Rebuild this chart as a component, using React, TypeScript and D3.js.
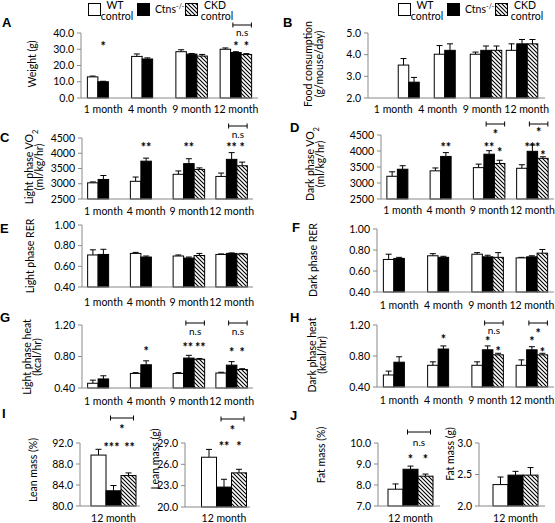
import React from "react";
import * as d3 from "d3";

// ---------- data ----------
const months = ["1 month", "4 month", "9 month", "12 month"];
const single = ["12 month"];
const groups = ["WT control", "Ctns-/-", "CKD control"];

// per category: [WT control, Ctns-/-, CKD control] (null = not measured)
const weightMean = [[13.0, 10.0, null], [25.6, 24.0, null], [28.5, 27.0, 25.8], [30.0, 28.0, 26.8]];
const weightErr = [[0.5, 0.3, null], [1.5, 0.7, null], [1.2, 0.4, 1.0], [0.8, 0.5, 0.5]];
const weightTicks = [0, 10, 20, 30, 40];

const foodMean = [[3.52, 2.73, null], [4.02, 4.2, null], [4.02, 4.2, 4.2], [4.2, 4.5, 4.5]];
const foodErr = [[0.3, 0.22, null], [0.4, 0.3, null], [0.1, 0.2, 0.2], [0.3, 0.2, 0.2]];
const foodTicks = [2, 3, 4, 5];

const vo2LightMean = [[3030, 3140, null], [3080, 3740, null], [3310, 3660, 3470], [3240, 3800, 3590]];
const vo2LightErr = [[30, 130, null], [140, 100, null], [110, 160, 50], [110, 220, 120]];
const vo2DarkMean = [[3210, 3430, null], [3380, 3830, null], [3480, 3900, 3610], [3460, 3990, 3770]];
const vo2DarkErr = [[140, 110, null], [90, 120, null], [110, 110, 100], [110, 200, 50]];
const vo2Ticks = [2500, 3000, 3500, 4000, 4500];

const rerLightMean = [[0.71, 0.715, null], [0.725, 0.69, null], [0.70, 0.68, 0.705], [0.715, 0.725, 0.72]];
const rerLightErr = [[0.05, 0.05, null], [0.01, 0.01, null], [0.01, 0.01, 0.02], [0.005, 0.005, 0.005]];
const rerDarkMean = [[0.71, 0.72, null], [0.745, 0.73, null], [0.76, 0.735, 0.73], [0.725, 0.735, 0.77]];
const rerDarkErr = [[0.05, 0.01, null], [0.02, 0.01, null], [0.015, 0.015, 0.045], [0.005, 0.01, 0.035]];
const rerTicks = [0.4, 0.6, 0.8, 1.0];

const heatLightMean = [[0.46, 0.515, null], [0.585, 0.695, null], [0.585, 0.78, 0.765], [0.59, 0.69, 0.635]];
const heatLightErr = [[0.04, 0.04, null], [0.01, 0.05, null], [0.01, 0.035, 0.01], [0.01, 0.045, 0.01]];
const heatDarkMean = [[0.555, 0.72, null], [0.68, 0.89, null], [0.68, 0.88, 0.815], [0.68, 0.88, 0.815]];
const heatDarkErr = [[0.05, 0.07, null], [0.045, 0.04, null], [0.045, 0.05, 0.02], [0.07, 0.04, 0.02]];
const heatTicks = [0.4, 0.8, 1.2];

const leanPctMean = [[89.7, 82.9, 85.8]];
const leanPctErr = [[1.1, 1.0, 0.5]];
const leanPctTicks = [80, 84, 88, 92];
const leanGMean = [[27.0, 22.8, 24.8]];
const leanGErr = [[1.1, 1.1, 0.5]];
const leanGTicks = [20, 23, 26, 29];
const fatPctMean = [[7.8, 8.75, 8.42]];
const fatPctErr = [[0.25, 0.15, 0.1]];
const fatPctTicks = [7, 8, 9, 10];
const fatGMean = [[2.34, 2.49, 2.49]];
const fatGErr = [[0.12, 0.06, 0.12]];
const fatGTicks = [2.0, 2.5, 3.0];

// ---------- styles ----------
const FONT = "Lato, 'Open Sans', sans-serif";
const AXIS = "#8a8a8a";
const FILLS = ["#ffffff", "#000000", "url(#hatch)"];
const TICK_FS = 10.5;
const LAB_FS = 10.5;
const STAR_FS = 12.5;

type Star = { c: number; s: number; t: string; dy: number; dx?: number };
type Bracket = { c: number; dy: number; t: string; tdy: number };
type PanelCfg = {
  letter: string; lx: number; ly: number;
  cats: string[]; mean: (number | null)[][]; err: (number | null)[][];
  ticks: number[]; fmt: string;
  x0: number; x1: number; band?: [number, number]; labelBand?: [number, number];
  yTop: number; yBot: number; labelY: number; barW: number;
  ylab: React.ReactNode[]; ylx: number[]; ylc: number;
  stars?: Star[]; brackets?: Bracket[];
};

const VO2 = (pre: string) => (
  <>
    {pre}VO<tspan baselineShift="sub" fontSize={7.5}>2</tspan>
  </>
);

const panels: PanelCfg[] = [
  {
    letter: "A", lx: 2, ly: 27, cats: months, mean: weightMean, err: weightErr, ticks: weightTicks, fmt: ".1f",
    x0: 81, x1: 258, yTop: 33, yBot: 98, labelY: 113, barW: 10.5,
    ylab: ["Weight (g)"], ylx: [32], ylc: 64,
    stars: [{ c: 0, s: 1, t: "*", dy: 11 }, { c: 3, s: 1, t: "*", dy: 11 }, { c: 3, s: 2, t: "*", dy: 11 }],
    brackets: [{ c: 3, dy: -8, t: "n.s", tdy: 0 }],
  },
  {
    letter: "B", lx: 283, ly: 27, cats: months, mean: foodMean, err: foodErr, ticks: foodTicks, fmt: ".1f",
    x0: 368, x1: 545, band: [396, 540], labelBand: [371, 549], yTop: 33, yBot: 98, labelY: 113, barW: 10.5,
    ylab: ["Food consumption", "(g/mouse/day)"], ylx: [308, 319], ylc: 64,
  },
  {
    letter: "C", lx: 0, ly: 142, cats: months, mean: vo2LightMean, err: vo2LightErr, ticks: vo2Ticks, fmt: "d",
    x0: 82, x1: 253, yTop: 138, yBot: 199, labelY: 215, barW: 10.5,
    ylab: [VO2("Light phase "), "(ml/kg/hr)"], ylx: [29, 39], ylc: 167,
    stars: [{ c: 1, s: 1, t: "**", dy: 7 }, { c: 2, s: 1, t: "**", dy: 7 }, { c: 3, s: 1, t: "**", dy: 7 }, { c: 3, s: 2, t: "*", dy: 7 }],
    brackets: [{ c: 3, dy: -12, t: "n.s", tdy: -3 }],
  },
  {
    letter: "D", lx: 290, ly: 132, cats: months, mean: vo2DarkMean, err: vo2DarkErr, ticks: vo2Ticks, fmt: "d",
    x0: 381, x1: 554, yTop: 135, yBot: 199, labelY: 214, barW: 10.5,
    ylab: [VO2("Dark phase "), "(ml/kg/hr)"], ylx: [310, 320], ylc: 164,
    stars: [
      { c: 1, s: 1, t: "**", dy: 10 }, { c: 2, s: 1, t: "**", dy: 10 }, { c: 2, s: 2, t: "*", dy: 15 },
      { c: 3, s: 1, t: "***", dy: 10 }, { c: 3, s: 2, t: "*", dy: 18 },
    ],
    brackets: [{ c: 2, dy: -11, t: "*", tdy: -3 }, { c: 3, dy: -11, t: "*", tdy: -5 }],
  },
  {
    letter: "E", lx: 0, ly: 233, cats: months, mean: rerLightMean, err: rerLightErr, ticks: rerTicks, fmt: ".2f",
    x0: 82, x1: 253, yTop: 225, yBot: 287, labelY: 306, barW: 10.5,
    ylab: ["Light phase RER"], ylx: [30], ylc: 256,
  },
  {
    letter: "F", lx: 292, ly: 232, cats: months, mean: rerDarkMean, err: rerDarkErr, ticks: rerTicks, fmt: ".2f",
    x0: 377, x1: 554, yTop: 229, yBot: 292, labelY: 309, barW: 10.5,
    ylab: ["Dark phase RER"], ylx: [313], ylc: 260,
  },
  {
    letter: "G", lx: 0, ly: 322, cats: months, mean: heatLightMean, err: heatLightErr, ticks: heatTicks, fmt: ".2f",
    x0: 82, x1: 253, yTop: 325, yBot: 388, labelY: 405, barW: 10.5,
    ylab: ["Light phase heat", "(kcal/hr)"], ylx: [27, 37], ylc: 357,
    stars: [
      { c: 1, s: 1, t: "*", dy: 24 }, { c: 2, s: 1, t: "**", dy: 20, dx: -1 }, { c: 2, s: 2, t: "**", dy: 20, dx: 1 },
      { c: 3, s: 1, t: "*", dy: 25 }, { c: 3, s: 2, t: "*", dy: 25 },
    ],
    brackets: [{ c: 2, dy: -2, t: "n.s", tdy: 7 }, { c: 3, dy: -2, t: "n.s", tdy: 7 }],
  },
  {
    letter: "H", lx: 290, ly: 322, cats: months, mean: heatDarkMean, err: heatDarkErr, ticks: heatTicks, fmt: ".2f",
    x0: 377, x1: 554, yTop: 325, yBot: 387, labelY: 404, barW: 10.5,
    ylab: ["Dark phase heat", "(kcal/hr)"], ylx: [312, 322], ylc: 355,
    stars: [
      { c: 1, s: 1, t: "*", dy: 12 }, { c: 2, s: 1, t: "*", dy: 14 }, { c: 2, s: 2, t: "*", dy: 24 },
      { c: 3, s: 1, t: "*", dy: 14 }, { c: 3, s: 2, t: "*", dy: 25 },
    ],
    brackets: [{ c: 2, dy: -2, t: "n.s", tdy: 6 }, { c: 3, dy: -2, t: "*", tdy: 6 }],
  },
  {
    letter: "I", lx: 2, ly: 418, cats: single, mean: leanPctMean, err: leanPctErr, ticks: leanPctTicks, fmt: ".1f",
    x0: 80, x1: 140, band: [80, 147], yTop: 443, yBot: 506, labelY: 522, barW: 15,
    ylab: ["Lean mass (%)"], ylx: [33], ylc: 470,
    stars: [{ c: 0, s: 1, t: "***", dy: 2, dx: -2 }, { c: 0, s: 2, t: "**", dy: 2, dx: 1 }],
    brackets: [{ c: 0, dy: -25, t: "*", tdy: -16 }],
  },
  {
    letter: "", lx: 0, ly: 0, cats: single, mean: leanGMean, err: leanGErr, ticks: leanGTicks, fmt: ".1f",
    x0: 185, x1: 250, band: [185, 263], yTop: 443, yBot: 507, labelY: 522, barW: 15,
    ylab: ["Lean mass (g)"], ylx: [155], ylc: 459,
    stars: [{ c: 0, s: 1, t: "**", dy: 1 }, { c: 0, s: 2, t: "*", dy: 1 }],
    brackets: [{ c: 0, dy: -24, t: "*", tdy: -15 }],
  },
  {
    letter: "J", lx: 290, ly: 420, cats: single, mean: fatPctMean, err: fatPctErr, ticks: fatPctTicks, fmt: ".1f",
    x0: 378, x1: 440, band: [378, 443], yTop: 443, yBot: 506, labelY: 522, barW: 15,
    ylab: ["Fat mass (%)"], ylx: [321], ylc: 455,
    stars: [{ c: 0, s: 1, t: "*", dy: 14 }, { c: 0, s: 2, t: "*", dy: 14 }],
    brackets: [{ c: 0, dy: -11, t: "n.s", tdy: 0 }],
  },
  {
    letter: "", lx: 0, ly: 0, cats: single, mean: fatGMean, err: fatGErr, ticks: fatGTicks, fmt: ".1f",
    x0: 479, x1: 545, band: [479, 552], yTop: 443, yBot: 506, labelY: 522, barW: 15,
    ylab: ["Fat mass (g)"], ylx: [450], ylc: 454,
  },
];

function Panel({ p }: { p: PanelCfg }) {
  const y = d3.scaleLinear().domain([p.ticks[0], p.ticks[p.ticks.length - 1]]).range([p.yBot, p.yTop]);
  const band = d3.scaleBand<string>().domain(p.cats).range(p.band ?? [p.x0, p.x1]);
  const lband = d3.scaleBand<string>().domain(p.cats).range(p.labelBand ?? p.band ?? [p.x0, p.x1]);
  const fmt = d3.format(p.fmt);
  const cx = (ci: number, si: number) => (band(p.cats[ci]) as number) + band.bandwidth() / 2 + (si - 1) * p.barW;
  const w = p.barW;
  const starBase = STAR_FS * 0.55;
  return (
    <g fontFamily={FONT}>
      {p.letter && (
        <text x={p.lx} y={p.ly} fontFamily="'Liberation Sans', Arial, sans-serif" fontWeight="bold" fontSize={13}>
          {p.letter}
        </text>
      )}
      {/* y axis */}
      <line x1={p.x0} x2={p.x0} y1={p.yTop} y2={p.yBot} stroke={AXIS} />
      {p.ticks.map((t) => (
        <g key={t}>
          <line x1={p.x0 - 4} x2={p.x0} y1={y(t)} y2={y(t)} stroke={AXIS} />
          <text x={p.x0 - 7} y={y(t)} dy="0.35em" textAnchor="end" fontSize={TICK_FS}>
            {fmt(t)}
          </text>
        </g>
      ))}
      {/* bars */}
      {p.mean.map((row, ci) =>
        row.map((v, si) => {
          if (v == null) return null;
          const x = cx(ci, si);
          const top = y(v);
          const e = p.err[ci][si] ?? 0;
          const et = y(v + e);
          return (
            <g key={`${ci}-${si}`}>
              <line x1={x} x2={x} y1={top} y2={et} stroke="#000" />
              <line x1={x - 3} x2={x + 3} y1={et} y2={et} stroke="#000" />
              <rect x={x - w / 2} y={top} width={w} height={p.yBot - top} fill={FILLS[si]} stroke="#000" strokeWidth={1} />
            </g>
          );
        })
      )}
      {/* x axis */}
      <line x1={p.x0} x2={p.x1} y1={p.yBot} y2={p.yBot} stroke={AXIS} />
      {p.cats.map((c) => (
        <text key={c} x={(lband(c) as number) + lband.bandwidth() / 2} y={p.labelY} textAnchor="middle" fontSize={LAB_FS}>
          {c}
        </text>
      ))}
      {/* y label */}
      {p.ylab.map((l, i) => (
        <text key={i} transform={`translate(${p.ylx[i]},${p.ylc}) rotate(-90)`} textAnchor="middle" dy="0.35em" fontSize={10.5}>
          {l}
        </text>
      ))}
      {/* annotations */}
      {(p.stars ?? []).map((s, i) => (
        <text key={i} x={cx(s.c, s.s) + (s.dx ?? 0)} y={p.yTop + s.dy + starBase} textAnchor="middle" fontSize={STAR_FS} fontWeight="bold">
          {s.t}
        </text>
      ))}
      {(p.brackets ?? []).map((b, i) => {
        const a = cx(b.c, 1) - 3;
        const z = cx(b.c, 2) + 5;
        const by = p.yTop + b.dy;
        const ns = b.t !== "*";
        return (
          <g key={i}>
            <line x1={a} x2={z} y1={by} y2={by} stroke="#000" />
            <line x1={a} x2={a} y1={by - 2.5} y2={by + 2.5} stroke="#000" />
            <line x1={z} x2={z} y1={by - 2.5} y2={by + 2.5} stroke="#000" />
            <text
              x={(a + z) / 2}
              y={p.yTop + b.tdy + (ns ? 3 : starBase)}
              textAnchor="middle"
              fontSize={ns ? 10 : STAR_FS}
              fontWeight={ns ? "normal" : "bold"}
            >
              {b.t}
            </text>
          </g>
        );
      })}
    </g>
  );
}

function Legend({ dx }: { dx: number }) {
  return (
    <g fontFamily={FONT} fontSize={10.5} transform={`translate(${dx},0)`}>
      <rect x={88.5} y={3.5} width={12} height={12} fill={FILLS[0]} stroke="#000" />
      <text x={115} y={8.5} textAnchor="middle">WT</text>
      <text x={117} y={19.5} textAnchor="middle">control</text>
      <rect x={137.5} y={3.5} width={12} height={12} fill={FILLS[1]} stroke="#000" />
      <text x={155} y={13}>
        Ctns<tspan baselineShift="super" fontSize={7}>-/-</tspan>
      </text>
      <rect x={185.5} y={3.5} width={12} height={12} fill={FILLS[2]} stroke="#000" />
      <text x={215} y={8.5} textAnchor="middle">CKD</text>
      <text x={217} y={19.5} textAnchor="middle">control</text>
    </g>
  );
}

export default function App() {
  return (
    <>
      <style>{`body{margin:0} svg{display:block}`}</style>
      <svg width={555} height={523} viewBox="0 0 555 523" style={{ background: "#fff" }}>
        <defs>
          <pattern id="hatch" patternUnits="userSpaceOnUse" width={4} height={4}>
            <rect width={4} height={4} fill="#fff" />
            <path d="M-1,-1 L5,5 M-1,3 L1,5 M3,-1 L5,1" stroke="#000" strokeWidth={1.1} />
          </pattern>
        </defs>
        <title>{groups.join(", ")}</title>
        <Legend dx={0} />
        <Legend dx={310} />
        {panels.map((p, i) => (
          <Panel key={i} p={p} />
        ))}
      </svg>
    </>
  );
}
